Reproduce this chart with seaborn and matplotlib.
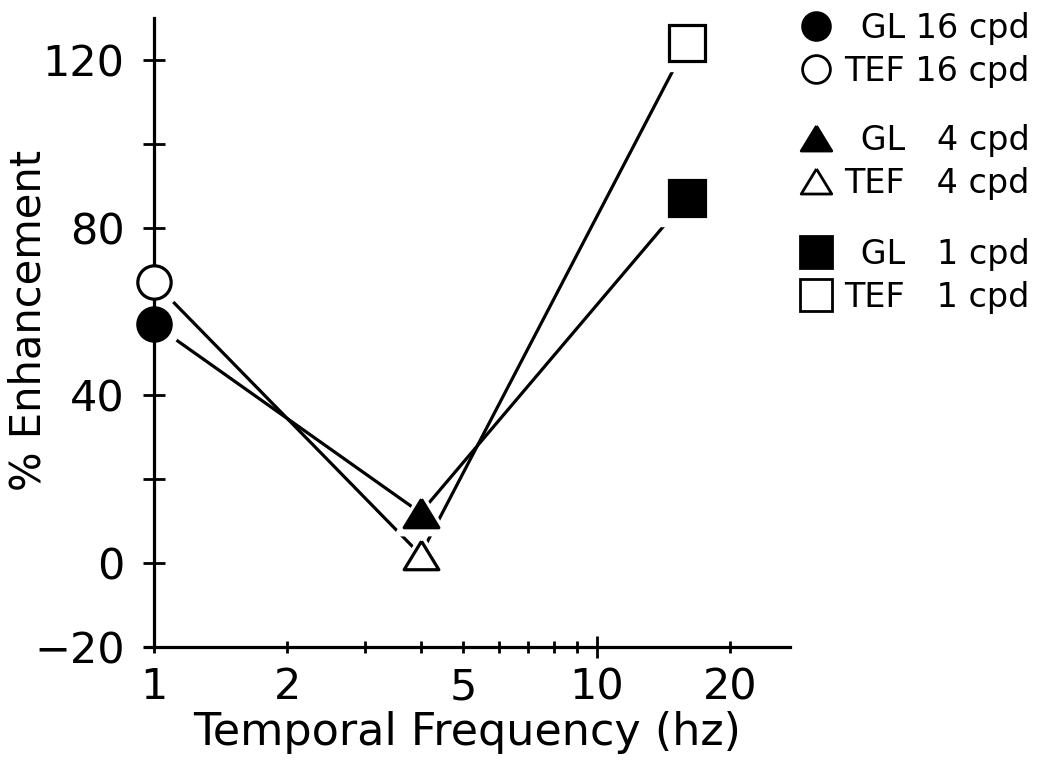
import matplotlib
matplotlib.use("Agg")
import matplotlib.pyplot as plt
from matplotlib.lines import Line2D
import seaborn as sns
import pandas as pd

# ---- data ----
freq = [1, 4, 16]                      # temporal frequency (hz)
gl_enh = [57, 12, 87]                  # GL, % enhancement
tef_enh = [67, 2, 124]                 # TEF, % enhancement
cpd_labels = ["16 cpd", "4 cpd", "1 cpd"]
legend_labels = [["\u2002GL 16 cpd", "TEF 16 cpd"],
                 ["\u2002GL \u20074 cpd", "TEF \u20074 cpd"],
                 ["\u2002GL \u20071 cpd", "TEF \u20071 cpd"]]
x_major = [10]
x_minor = [1, 2, 3, 4, 5, 6, 7, 8, 9, 20]
x_ticklabels = {1: "1", 2: "2", 5: "5", 10: "10", 20: "20"}
y_ticks = [-20, 0, 20, 40, 60, 80, 100, 120]
y_ticklabels = {-20: "\u221220", 0: "0", 40: "40", 80: "80", 120: "120"}

df = pd.DataFrame({
    "freq": freq * 2,
    "enh": gl_enh + tef_enh,
    "group": ["GL"] * 3 + ["TEF"] * 3,
    "cpd": cpd_labels * 2,
})

sns.set_theme(style="white")
plt.rcParams["font.family"] = ["DejaVu Sans"]
plt.rcParams["text.color"] = "black"

# marker shapes (flattened triangle like the original)
tri = [(0, 0.82), (-1, -0.82), (1, -0.82), (0, 0.82)]
point_markers = ["o", tri, "s"]
ms_list = [24, 25, 26]

fig = plt.figure(figsize=(10.43, 7.65), dpi=100)
ax = fig.add_axes([145 / 1043, 1 - 647 / 765, (790 - 145) / 1043, (647 - 18) / 765])

sns.lineplot(data=df, x="freq", y="enh", hue="group",
             palette={"GL": "black", "TEF": "black"}, legend=False,
             linewidth=2.3, ax=ax, zorder=2, sort=False)

for vals, filled in ((gl_enh, True), (tef_enh, False)):
    for xv, yv, mk, ms in zip(freq, vals, point_markers, ms_list):
        # white halo leaves a gap between line and symbol
        ax.plot([xv], [yv], marker=mk, markersize=ms + 14, color="white",
                markeredgecolor="white", linestyle="none", zorder=2.2, clip_on=False)
        ax.plot([xv], [yv], marker=mk, markersize=ms,
                markerfacecolor="black" if filled else "white",
                markeredgecolor="black", markeredgewidth=2.3,
                linestyle="none", zorder=3, clip_on=False)

ax.set_xscale("log")
ax.set_xlim(0.955, 27.3)
ax.set_ylim(-20, 130)
ax.spines["left"].set_position(("data", 1))
for s in ("top", "right"):
    ax.spines[s].set_visible(False)
for s in ("left", "bottom"):
    ax.spines[s].set_color("black")
    ax.spines[s].set_linewidth(2.3)

ax.set_xticks(x_major, labels=[x_ticklabels.get(t, "") for t in x_major])
ax.set_xticks(x_minor, labels=[x_ticklabels.get(t, "") for t in x_minor], minor=True)
ax.set_yticks(y_ticks)
ax.set_yticklabels([y_ticklabels.get(t, "") for t in y_ticks])
ax.set_yticks([], minor=True)
ax.tick_params(axis="x", which="major", bottom=True, direction="inout", length=16,
               width=2, color="black", labelsize=31, labelcolor="black", pad=6)
ax.tick_params(axis="x", which="minor", bottom=True, direction="inout", length=8,
               width=2, color="black", labelsize=31, labelcolor="black", pad=10)
ax.tick_params(axis="y", left=True, direction="inout", length=16, width=2,
               color="black", labelsize=31, labelcolor="black", pad=13)

ax.set_xlabel("Temporal Frequency (hz)", fontsize=32, color="black", labelpad=2)
ax.set_ylabel("% Enhancement", fontsize=30, color="black")
ax.yaxis.set_label_coords((50 - 145) / 645, (647 - 320) / 629)

# legend: three pairs, GL (filled) and TEF (open)
pair_centers = [50, 162, 276]
for i, (mk, ms) in enumerate(zip(point_markers, [20, 22, 23])):
    hs = [Line2D([], [], marker=mk, linestyle="none", markersize=ms,
                 markerfacecolor=fc, markeredgecolor="black", markeredgewidth=2.0)
          for fc in ("black", "white")]
    fig.legend(hs, legend_labels[i], loc="center left",
               bbox_to_anchor=(801 / 1043, 1 - pair_centers[i] / 765),
               frameon=False, fontsize=24, labelcolor="black",
               handlelength=0.92, handletextpad=0.37, labelspacing=0.3,
               borderaxespad=0, borderpad=0)

fig.savefig("out.png", dpi=100, facecolor="white")
